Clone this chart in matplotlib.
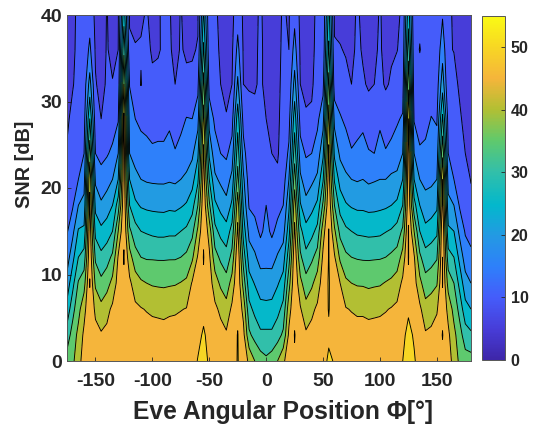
from matplotlib import pyplot as plt
from matplotlib.colors import LinearSegmentedColormap, Normalize
from matplotlib.cm import ScalarMappable
import numpy as np

plt.rcParams['font.family'] = ['Liberation Sans', 'DejaVu Sans']
plt.rcParams['axes.unicode_minus'] = False

angles = list(range(-175, 185, 5))
snr = [0, 3, 6, 9, 12, 15, 18, 21, 24, 28, 32, 36, 40]
levels = [5, 10, 15, 20, 25, 30, 35, 40, 45, 50, 55]
xticks = [-150, -100, -50, 0, 50, 100, 150]
yticks = [0, 10, 20, 30, 40]
cbar_ticks = [0, 10, 20, 30, 40, 50]

# one list per angle, values at each snr row
z_columns = [
    [37, 32.5, 26.7, 22, 17.5, 14.5, 13, 11.5, 10.3, 9.5, 9, 8.7, 8.5],  # -175
    [39, 37, 33.4, 28.4, 23.5, 18.7, 14.5, 13, 12, 10.8, 9.8, 9.3, 9],
    [43, 41.5, 38.3, 35.5, 30, 25.5, 20, 15, 13.5, 12, 11, 11, 11],
    [47.5, 46, 43.5, 38, 32, 26, 21.5, 18, 15, 13, 12, 11.5, 11],
    [47, 48, 49, 50.2, 49, 48, 46, 44, 38, 30, 22, 16, 13],  # -155
    [48, 46.5, 44, 39, 34, 28.5, 23.5, 19, 15, 12, 10.3, 9.5, 9],
    [48, 45.6, 41.5, 36.3, 31.3, 26.2, 20.8, 16.8, 13.6, 10, 8.8, 8, 7.5],
    [48, 46.2, 43.5, 38, 33, 27.5, 22.5, 18, 14.5, 11.5, 10.5, 10.3, 10.2],
    [48.5, 48, 46, 41.5, 36, 30, 25, 20, 16, 12.5, 10.2, 9, 8.5],
    [48.5, 48.3, 48, 47, 45.5, 40, 32.5, 25, 20, 14.5, 11, 10, 9.5],
    [49, 49, 49.5, 49.5, 50.2, 49.5, 49, 48.5, 48, 46, 40, 34, 28],  # -125
    [49, 48.8, 48, 46, 42, 36, 30, 25, 20, 17.5, 14.8, 10.8, 9.5],
    [48.5, 48, 46, 42.5, 37, 32, 26, 21.5, 18, 15, 12, 10.2, 9.2],
    [48.3, 47.5, 45.3, 40.8, 35, 30, 24.5, 20, 16.8, 14, 9.8, 10.3, 9.5],
    [48.2, 47.3, 44.7, 40, 34.5, 29.5, 24, 19.5, 16, 14, 12, 11, 10.3],
    [48, 47, 44.2, 39.5, 34.5, 29, 23.8, 19.3, 15.8, 13, 10.8, 9.5, 9],
    [48, 46.9, 44, 39.3, 34.4, 28.7, 23.7, 19.2, 15.8, 13.5, 11.2, 9.6, 9.7],
    [48, 46.9, 43.7, 39.2, 34.4, 28.7, 23.6, 19.2, 15.8, 13.5, 11.5, 10.6, 10.5],
    [48, 47, 44.2, 39.4, 34.5, 29, 24, 19.5, 16.5, 14.2, 11.3, 10.5, 10.3],
    [48, 47, 44.4, 39.6, 34.5, 29, 23.8, 19.2, 15.3, 13, 10, 9, 8.8],
    [48.1, 47.3, 44.8, 40.2, 35, 30, 24.5, 20, 16.8, 13.5, 11, 10.3, 10.2],
    [48.3, 47.6, 45.2, 41, 36, 31, 25.5, 21, 17.5, 15.2, 10.8, 9.5, 9],
    [48.5, 48.3, 47, 45.5, 39, 33.5, 28, 23, 19, 15, 11, 9.5, 9],
    [50.2, 49, 48, 47, 45.6, 41, 35, 29, 24, 18, 13.5, 10.3, 9.5],
    [51, 50.5, 49, 49.5, 50.2, 49.5, 49, 47.5, 46, 42, 37, 31, 26],  # -55
    [49.6, 48.8, 48, 47.3, 46, 43, 36, 30, 24, 18, 13, 11, 10.5],
    [48.5, 48, 46, 42.5, 37, 31.5, 26, 21, 17, 14, 12, 11, 10.8],
    [48, 46.7, 44, 39, 34, 28.5, 23.5, 19, 15, 12, 10, 9.5, 9],
    [48, 45.7, 42, 37, 32, 27, 21.5, 17.5, 14.2, 10.3, 8.8, 8, 7.5],
    [48.5, 47.5, 46, 42, 36.5, 32, 26, 21.5, 17, 13, 10, 9.2, 8.8],
    [50.2, 50.2, 49, 49, 49, 46, 43, 37, 33, 28, 21, 16.5, 13],  # -25
    [48, 46.5, 43.5, 38, 33, 28, 24, 21, 17, 13, 10, 9.5, 9.3],
    [44, 36, 31.5, 27, 22.5, 18.5, 14.5, 12.5, 11.5, 10.8, 9.8, 9.6, 9.5],
    [40, 33.3, 28.7, 24.7, 20.8, 16.9, 13.5, 12, 11, 10.5, 9.8, 9.7, 9.7],
    [37.5, 31, 26.5, 22.5, 18, 14, 13, 12, 11, 10.5, 10.3, 10.3, 10.2],
    [36, 31, 26.5, 22, 18.5, 16.5, 15, 13, 11, 10, 9.5, 9.5, 9.5],  # 0
    [37.5, 31, 26.5, 22.5, 18, 14, 13, 11.5, 10, 9, 8.8, 8.8, 8.8],
    [40, 33, 28.5, 24.5, 20.5, 16.5, 13.3, 10.5, 9.7, 9.5, 9.3, 9.3, 9.3],
    [44, 36, 31.5, 27, 22.5, 18, 15, 12.5, 11.5, 11, 10.8, 10.5, 10.3],
    [48, 46, 43, 38, 33, 28, 24, 20, 16, 13, 11, 10, 9.7],
    [49.5, 50.2, 49, 49, 48.5, 46, 43, 38, 33, 28, 22, 17, 13.7],  # 25
    [48.5, 47.5, 45.5, 41.5, 36, 31.5, 25.5, 21, 17, 13, 10, 9.3, 9],
    [48, 45.8, 41.8, 37, 31.5, 26.7, 21.5, 17.5, 14.5, 10.5, 9, 8.5, 8],
    [48, 46.5, 44, 39, 34, 28.5, 23.5, 19, 15, 10.5, 9.5, 9.5, 9.5],
    [48.3, 47.8, 45.8, 42.5, 37, 31.5, 26, 21, 17, 14, 11.5, 10.6, 10.4],
    [49, 48.7, 48, 47.3, 46, 43, 36, 29.5, 24, 18, 13.5, 11, 10.5],
    [50.5, 49.5, 50.2, 50.4, 50.2, 50.1, 49, 47.5, 46, 42, 37, 31, 27],  # 55
    [49.8, 48.7, 48, 47, 45.6, 41, 35, 29.5, 24, 18.5, 12, 10.3, 9.5],
    [48.5, 48.2, 47, 45, 39, 33.5, 28, 23, 19, 15.5, 12, 10.2, 9],
    [48.3, 47.6, 45.3, 41, 36, 31, 25.5, 21, 17.5, 14, 11, 9.7, 9],
    [48, 47.3, 44.7, 40, 35, 30, 24.5, 20, 15.3, 13.3, 10, 9, 8.8],
    [48, 47, 44.2, 39.5, 34.6, 29.2, 24, 19.6, 15.8, 13.7, 11.5, 10.8, 10.5],
    [48, 47, 44.2, 39.4, 34.4, 29, 24, 20, 16.5, 14, 10.5, 9.6, 9.2],
    [48, 46.8, 43.8, 39, 34.4, 28.7, 23.6, 19.2, 15.4, 12, 9.5, 9, 8.8],
    [48, 46.9, 44, 39.3, 34.5, 28.8, 23.7, 19.6, 15, 12.5, 10, 9.5, 9],
    [48, 47, 44.2, 39.5, 34.6, 29, 24, 20, 17, 14, 11, 10.4, 10.3],
    [48.2, 47.2, 44.7, 40.3, 35, 29.8, 24.3, 20, 15.4, 12.5, 9.5, 9, 8.8],
    [48.3, 47.6, 45.3, 41, 36, 30.5, 25, 21, 16.5, 13, 10.5, 9.5, 9.2],
    [48.5, 48, 46, 42.5, 37, 32, 26, 21.5, 17, 14.5, 11.5, 9.9, 9.5],
    [50, 49.2, 48, 46, 42, 36, 30, 25, 20, 15.5, 12.5, 11, 10.5],
    [52, 51, 49.5, 49.5, 50.2, 50.3, 49, 48.5, 48, 45, 39, 33, 28],  # 125
    [50.4, 49.6, 48, 47, 45.6, 40, 32, 25, 20, 14.5, 12, 11, 10.6],
    [48.5, 48, 46, 41.5, 36, 30, 25, 20, 15.8, 12.5, 11, 9.9, 10.5],
    [48, 45.6, 42, 37, 32, 26.5, 21.7, 18.8, 16.4, 13, 11.5, 10.9, 10.7],
    [48, 46, 43, 38, 33, 27.5, 22.5, 19, 17, 15.2, 12.5, 11.5, 11],
    [48, 47, 44.5, 39.5, 34.5, 29, 24, 20, 17, 14.5, 12.5, 11.5, 11],
    [49, 50.2, 49, 50.2, 50, 49.5, 47, 45, 39, 31, 23, 18, 14.6],  # 155
    [47.5, 46, 43.5, 38, 32, 26, 21.5, 18, 15, 13, 10, 10.3, 10.8],
    [43, 41.5, 38.3, 35, 30, 25, 20, 15, 13.5, 12, 11, 9.9, 9.5],
    [39, 37, 33.4, 28.4, 23.5, 18.7, 14.5, 13, 12, 10.5, 9.5, 9.2, 9],
    [37, 32.5, 26.7, 22, 17.5, 14.5, 13, 11.5, 10, 9, 8.7, 8.5, 8.3],
    [37, 31, 25, 20, 16, 13.5, 11, 9.8, 9, 8.5, 8.3, 8, 8],  # 180
]

# parula as it looks on the colorbar
parula = LinearSegmentedColormap.from_list('parula', [
    (0.00, (0.24, 0.15, 0.66)),
    (0.09, (0.28, 0.24, 0.85)),
    (0.18, (0.27, 0.36, 0.98)),
    (0.27, (0.18, 0.50, 0.98)),
    (0.36, (0.14, 0.60, 0.89)),
    (0.45, (0.01, 0.72, 0.80)),
    (0.55, (0.20, 0.75, 0.66)),
    (0.64, (0.38, 0.79, 0.42)),
    (0.73, (0.70, 0.75, 0.20)),
    (0.82, (0.96, 0.71, 0.23)),
    (0.91, (0.97, 0.84, 0.14)),
    (1.00, (0.98, 0.98, 0.08)),
])
norm = Normalize(0, 55)
band_colors = [parula(norm(l)) for l in levels[:-1]]
text_color = '#262626'

fig = plt.figure(figsize=(5.36, 4.25), dpi=100)
ax = fig.add_axes([67 / 536, 1 - 361 / 425, 404 / 536, 346 / 425])
z = np.array(z_columns).T
ax.contourf(angles, snr, z, levels=levels, colors=band_colors)
ax.contour(angles, snr, z, levels=levels, colors='k', linewidths=0.65)
ax.set_xlim(-175, 180)
ax.set_ylim(0, 40)
ax.set_xticks(xticks)
ax.set_yticks(yticks)
ax.tick_params(axis='x', direction='in', length=3, width=0.6, colors=text_color, labelsize=14, pad=9)
ax.tick_params(axis='y', direction='in', length=3, width=0.6, colors=text_color, labelsize=14, pad=3.5)
for label in ax.get_xticklabels() + ax.get_yticklabels():
    label.set_fontweight('bold')
ax.set_xlabel('Eve Angular Position Φ[°]', fontsize=17.7, fontweight='bold', color=text_color, va='center')
ax.xaxis.set_label_coords(0.535, -0.147)
ax.set_ylabel('SNR [dB]', fontsize=14.3, fontweight='bold', color=text_color, va='center')
ax.yaxis.set_label_coords(-0.104, 0.569)
for spine in ax.spines.values():
    spine.set_color('#555555')
    spine.set_linewidth(0.7)

cax = fig.add_axes([482 / 536, 1 - 360 / 425, 23 / 536, 344 / 425])
cbar = fig.colorbar(ScalarMappable(norm=norm, cmap=parula), cax=cax)
cbar.set_ticks(cbar_ticks)
cbar.ax.tick_params(direction='in', length=3, width=0.6, colors=text_color, labelsize=11.5, pad=4)
for label in cbar.ax.get_yticklabels():
    label.set_fontweight('bold')
cbar.outline.set_edgecolor('#555555')
cbar.outline.set_linewidth(0.7)

plt.savefig('out.png', dpi=100)
plt.close()
